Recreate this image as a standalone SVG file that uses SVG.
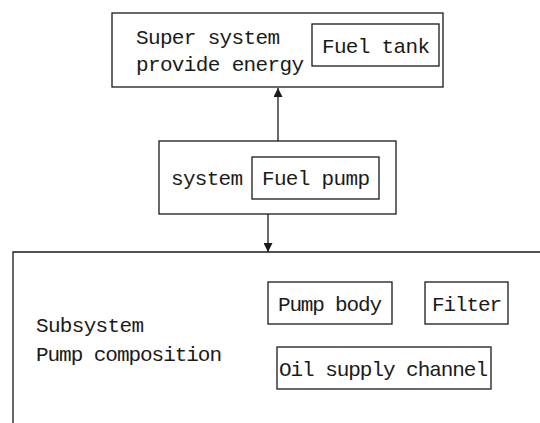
<svg xmlns="http://www.w3.org/2000/svg" width="540" height="423" viewBox="0 0 540 423">
<style>
.b{fill:none;stroke:#1a1a1a;stroke-width:1.3}
.t{font-family:"Liberation Mono","Courier New",monospace;font-size:21px;fill:#1a1a1a}
.c{stroke:#1a1a1a;stroke-width:1.3;fill:none}
</style>
<defs>
<marker id="ah" viewBox="0 0 10 10" refX="10" refY="5" markerWidth="10" markerHeight="9" markerUnits="userSpaceOnUse" orient="auto">
<path d="M0,0 L10,5 L0,10 Z" fill="#1a1a1a"/>
</marker>
</defs>
<rect width="540" height="423" fill="#fff"/>
<g id="super-system">
<rect class="b" x="112" y="13" width="331" height="74"/>
<text class="t" x="136" y="44" textLength="144" lengthAdjust="spacing">Super system</text>
<text class="t" x="136" y="71" textLength="168" lengthAdjust="spacing">provide energy</text>
</g>
<g id="fuel-tank">
<rect class="b" x="312" y="24" width="127" height="42"/>
<text class="t" x="322" y="53" textLength="108" lengthAdjust="spacing">Fuel tank</text>
</g>
<g id="system">
<rect class="b" x="159" y="141" width="237" height="73"/>
<text class="t" x="171" y="185" textLength="72" lengthAdjust="spacing">system</text>
</g>
<g id="fuel-pump">
<rect class="b" x="252" y="157" width="127" height="42"/>
<text class="t" x="262" y="185" textLength="108" lengthAdjust="spacing">Fuel pump</text>
</g>
<g id="subsystem">
<path class="b" d="M13,430 L13,252 L545,252"/>
<text class="t" x="36" y="332" textLength="108" lengthAdjust="spacing">Subsystem</text>
<text class="t" x="36" y="361" textLength="186" lengthAdjust="spacing">Pump composition</text>
</g>
<g id="pump-body">
<rect class="b" x="268" y="282" width="124" height="42"/>
<text class="t" x="278" y="311" textLength="104" lengthAdjust="spacing">Pump body</text>
</g>
<g id="filter">
<rect class="b" x="425" y="282" width="83" height="42"/>
<text class="t" x="432" y="311" textLength="70" lengthAdjust="spacing">Filter</text>
</g>
<g id="oil-supply-channel">
<rect class="b" x="277" y="347" width="214" height="42"/>
<text class="t" x="279" y="376" textLength="209" lengthAdjust="spacing">Oil supply channel</text>
</g>
<g id="connectors">
<line class="c" x1="278" y1="141" x2="278" y2="88" marker-end="url(#ah)"/>
<line class="c" x1="268" y1="214" x2="268" y2="252" marker-end="url(#ah)"/>
</g>
</svg>
